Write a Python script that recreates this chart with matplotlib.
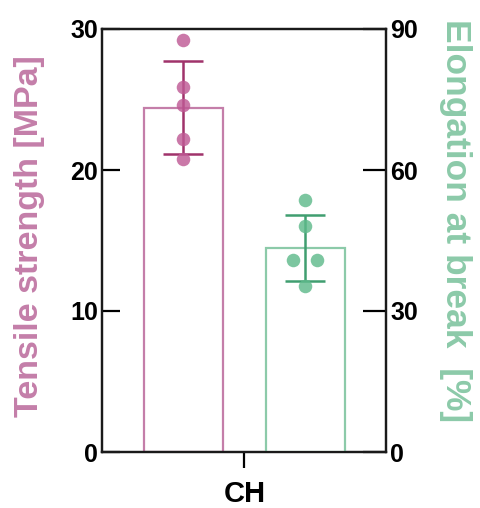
import numpy as np
import matplotlib
matplotlib.use("Agg")
import matplotlib.pyplot as plt

plt.rcParams["font.family"] = ["Liberation Sans", "DejaVu Sans"]
plt.rcParams["font.weight"] = "bold"
plt.rcParams["axes.labelweight"] = "bold"

# data
group = "CH"
tensile_pts = [29.2, 25.9, 24.6, 22.2, 20.8]      # MPa
tensile_mean = 24.4
tensile_sd = 3.3
elong_pts = [53.6, 48.1, 40.9, 40.9, 35.4]        # %
elong_mean = 43.4
elong_sd = 7.1

pink_edge = "#c47ea9"
pink_pt = "#bf5a95"
pink_err = "#a0336b"
green_edge = "#8ccaa9"
green_pt = "#5fba8b"
green_err = "#409e70"

fig = plt.figure(figsize=(4.81, 5.08), dpi=100)
ax = fig.add_axes([102 / 481, 56 / 508, 284 / 481, 423 / 508])
ax2 = ax.twinx()

bar_w = 0.648

# tensile strength (left axis)
ax.bar(0, tensile_mean, width=bar_w, facecolor="white",
       edgecolor=pink_edge, linewidth=1.6, zorder=1)
ax.errorbar(0, tensile_mean, yerr=tensile_sd, color=pink_err,
            capsize=14.5, elinewidth=1.8, capthick=1.8, zorder=2)
ax.scatter(np.zeros(len(tensile_pts)), tensile_pts, s=95, color=pink_pt,
           alpha=0.82, linewidths=0, zorder=3)

# elongation (right axis)
jit = np.array([0., 0., -0.1, 0.095, 0.])
ax2.bar(1, elong_mean, width=bar_w, facecolor="white",
        edgecolor=green_edge, linewidth=1.6, zorder=1)
ax2.errorbar(1, elong_mean, yerr=elong_sd, color=green_err,
             capsize=14.5, elinewidth=1.8, capthick=1.8, zorder=2)
ax2.scatter(1 + jit, elong_pts, s=95, color=green_pt,
            alpha=0.82, linewidths=0, zorder=3)

ax.set_xlim(-0.668, 1.66)
ax.set_ylim(0, 30)
ax2.set_ylim(0, 90)
ax.set_yticks([0, 10, 20, 30])
ax2.set_yticks([0, 30, 60, 90])
ax.set_xticks([0.5])
ax.set_xticklabels([group])

for a in (ax, ax2):
    for s in a.spines.values():
        s.set_linewidth(1.6)
        s.set_color("#1a1a1a")

ax.tick_params(axis="y", direction="in", length=13, width=1.6, pad=3,
               labelsize=18)
ax2.tick_params(axis="y", direction="in", length=16.5, width=1.6, pad=3,
                labelsize=18)
ax.tick_params(axis="x", direction="out", length=11.5, width=1.6, pad=9,
               labelsize=21)

ax.set_ylabel("Tensile strength [MPa]", color=pink_edge, fontsize=24.5,
              fontweight="bold", va="center")
ax.yaxis.set_label_coords(-0.257, 0.51)
ax2.set_ylabel("Elongation at break  [%]", color=green_edge, fontsize=25.5,
               fontweight="bold", rotation=270, va="center")
ax2.yaxis.set_label_coords(1.245, 0.546)

fig.savefig("out.png", dpi=100)
